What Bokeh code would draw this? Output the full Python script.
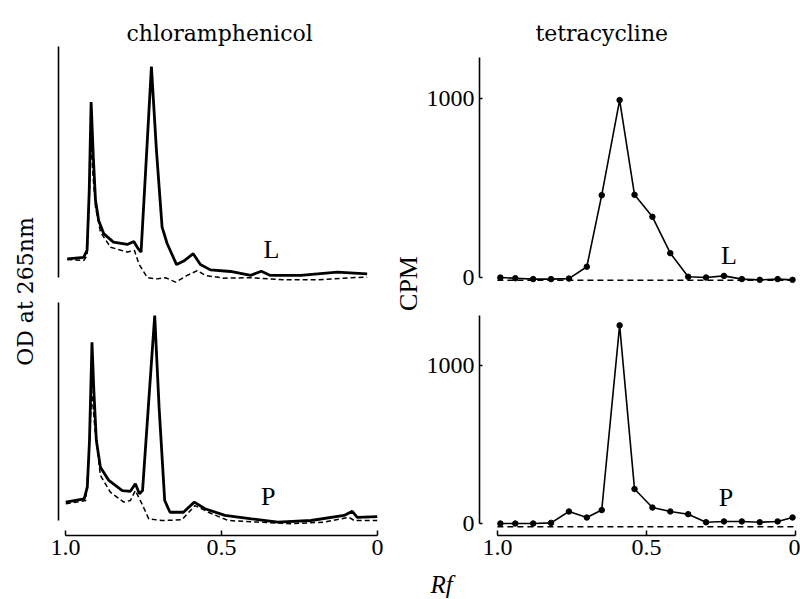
from math import pi
from bokeh.plotting import figure
from bokeh.layouts import row, column
from bokeh.models import Range1d, Label, FixedTicker
from bokeh.embed import file_html
from bokeh.resources import INLINE

# ---------------- data ----------------
# chloramphenicol, OD at 265 nm (arbitrary units), L panel
cam_L_solid_rf = [0.988, 0.936, 0.925, 0.918, 0.912, 0.905, 0.898, 0.888, 0.872, 0.841,
                  0.797, 0.776, 0.763, 0.753, 0.736, 0.720, 0.704, 0.686, 0.670, 0.640,
                  0.617, 0.587, 0.564, 0.532, 0.468, 0.404, 0.370, 0.341, 0.245, 0.128, 0.033]
cam_L_solid_od = [0.081, 0.087, 0.117, 0.377, 0.759, 0.521, 0.333, 0.247, 0.190, 0.153,
                  0.143, 0.156, 0.126, 0.110, 0.521, 0.913, 0.550, 0.218, 0.147, 0.056,
                  0.071, 0.103, 0.056, 0.033, 0.026, 0.009, 0.027, 0.009, 0.009, 0.023, 0.016]
cam_L_dash_rf = [0.988, 0.935, 0.925, 0.918, 0.913, 0.906, 0.898, 0.882, 0.850, 0.797,
                 0.774, 0.760, 0.733, 0.702, 0.675, 0.643, 0.606, 0.574, 0.548, 0.490,
                 0.404, 0.298, 0.192, 0.086, 0.033]
cam_L_dash_od = [0.078, 0.074, 0.095, 0.333, 0.593, 0.442, 0.304, 0.196, 0.131, 0.110,
                 0.117, 0.059, -0.001, -0.006, -0.001, -0.020, 0.009, 0.030, 0.009, -0.003,
                 -0.001, -0.010, -0.010, -0.001, 0.001]
# chloramphenicol, P panel
cam_P_solid_rf = [0.999, 0.940, 0.930, 0.923, 0.915, 0.909, 0.901, 0.888, 0.861, 0.818,
                  0.792, 0.776, 0.763, 0.753, 0.733, 0.714, 0.700, 0.682, 0.665, 0.622,
                  0.587, 0.553, 0.489, 0.404, 0.319, 0.213, 0.107, 0.081, 0.065, 0.001]
cam_P_solid_od = [0.080, 0.094, 0.145, 0.348, 0.775, 0.565, 0.348, 0.232, 0.174, 0.130,
                  0.127, 0.160, 0.116, 0.130, 0.522, 0.891, 0.493, 0.087, 0.036, 0.036,
                  0.080, 0.051, 0.022, 0.007, -0.007, 0.000, 0.022, 0.040, 0.014, 0.017]
cam_P_dash_rf = [0.999, 0.935, 0.925, 0.916, 0.905, 0.888, 0.856, 0.813, 0.792, 0.776,
                 0.755, 0.733, 0.691, 0.627, 0.585, 0.542, 0.479, 0.383, 0.277, 0.171,
                 0.091, 0.075, 0.001]
cam_P_dash_od = [0.073, 0.087, 0.275, 0.565, 0.391, 0.196, 0.123, 0.080, 0.087, 0.130,
                 0.073, 0.007, 0.000, 0.003, 0.065, 0.036, 0.000, -0.007, -0.014, -0.007,
                 0.014, 0.000, 0.000]

# tetracycline, CPM per fraction
tc_rf = [0.99, 0.94, 0.88, 0.82, 0.76, 0.70, 0.65, 0.59, 0.54, 0.48,
         0.42, 0.36, 0.30, 0.24, 0.18, 0.12, 0.06, 0.01]
tc_L_cpm = [0, -4, -9, -9, -6, 60, 460, 991, 462, 339,
            136, 4, 0, 9, -9, -13, -9, -13]
tc_P_cpm = [0, 0, 0, 4, 76, 38, 85, 1254, 218, 101,
            76, 59, 8, 13, 13, 8, 13, 38]
tc_bg_rf = [1.0, 0.0]
tc_L_bg = [-15, -15]
tc_P_bg = [-21, -21]

rf_ticks = [0, 0.5, 1.0]
rf_tick_labels = {0: "0", 0.5: "0.5", 1: "1.0"}
cpm_ticks = [0, 1000]

SERIF = "DejaVu Serif"
NUM = "Liberation Serif"


def make_fig(w, h, xr, yr, borders, xaxis=False, yaxis=True):
    l, r, t, b = borders
    p = figure(width=w, height=h, x_range=xr, y_range=yr,
               output_backend="svg", toolbar_location=None,
               x_axis_location="below" if xaxis else None,
               y_axis_location="left" if yaxis else None,
               min_border_left=l, min_border_right=r,
               min_border_top=t, min_border_bottom=b)
    p.outline_line_color = None
    p.grid.visible = False
    p.background_fill_color = "white"
    p.border_fill_color = "white"
    return p


def style_y(p, ticks, bounds):
    ax = p.yaxis[0]
    ax.ticker = FixedTicker(ticks=ticks, minor_ticks=[])
    ax.bounds = bounds
    ax.axis_line_color = "black"
    ax.axis_line_width = 1.6
    ax.major_tick_in = 3 if ticks else 0
    ax.major_tick_out = 0
    ax.minor_tick_in = 0
    ax.minor_tick_out = 0
    ax.major_tick_line_width = 1.5
    ax.major_label_text_font = NUM
    ax.major_label_text_font_size = "24px"
    ax.major_label_text_color = "black"
    ax.major_label_standoff = 5 if ticks else 0


def style_x(p):
    ax = p.xaxis[0]
    ax.ticker = FixedTicker(ticks=rf_ticks, minor_ticks=[])
    ax.major_label_overrides = rf_tick_labels
    ax.bounds = (0, 1)
    ax.axis_line_color = "black"
    ax.axis_line_width = 1.6
    ax.major_tick_in = 5
    ax.major_tick_out = 0
    ax.minor_tick_in = 0
    ax.minor_tick_out = 0
    ax.major_tick_line_width = 1.5
    ax.major_label_text_font = NUM
    ax.major_label_text_font_size = "24px"
    ax.major_label_text_color = "black"
    ax.major_label_standoff = 4


def text(p, x, y, s, size, font=NUM, angle=0, style="normal",
         align="center", baseline="middle"):
    p.add_layout(Label(x=x, y=y, text=s, text_font=font, text_font_size=size,
                       text_font_style=style, text_color="black",
                       text_align=align, text_baseline=baseline, angle=angle))


# ---------------- left column: chloramphenicol ----------------
tl = make_fig(346, 292, Range1d(1.0159, -0.0159), Range1d(-0.026, 1.199), (14, 8, 0, 9))
style_y(tl, [], (0, 1.0))
tl.line(cam_L_dash_rf, cam_L_dash_od, line_color="black", line_width=1.5, line_dash="5 3")
tl.line(cam_L_solid_rf, cam_L_solid_od, line_color="black", line_width=2.8)
text(tl, 0.338, 0.121, "L", "26px")
text(tl, 0.503, 1.056, "chloramphenicol", "22px", font=SERIF, baseline="alphabetic")

bl = make_fig(346, 277, Range1d(1.0223, -0.0159), Range1d(-0.0652, 0.948), (12, 8, 10, 34), xaxis=True)
style_y(bl, [], (0, 0.948))
style_x(bl)
bl.line(cam_P_dash_rf, cam_P_dash_od, line_color="black", line_width=1.5, line_dash="5 3")
bl.line(cam_P_solid_rf, cam_P_solid_od, line_color="black", line_width=2.8)
text(bl, 0.350, 0.104, "P", "26px")

# ---------------- right column: tetracycline ----------------
tr = make_fig(377, 292, Range1d(1.06, -0.0033), Range1d(-33.5, 1547.5), (54, 4, 0, 9))
style_y(tr, cpm_ticks, (0, 1229))
tr.line(tc_bg_rf, tc_L_bg, line_color="black", line_width=1.5, line_dash="6 4")
tr.line(tc_rf, tc_L_cpm, line_color="black", line_width=1.6)
tr.scatter(tc_rf, tc_L_cpm, marker="circle", size=5.5, color="black")
text(tr, 0.223, 123, "L", "26px")
text(tr, 0.65, 1363, "tetracycline", "22px", font=SERIF, baseline="alphabetic")

br = make_fig(377, 277, Range1d(1.06, -0.0033), Range1d(-75.9, 1398.7), (54, 4, 10, 34), xaxis=True)
style_y(br, cpm_ticks, (0, 1316))
style_x(br)
br.line(tc_bg_rf, tc_P_bg, line_color="black", line_width=1.5, line_dash="6 4")
br.line(tc_rf, tc_P_cpm, line_color="black", line_width=1.6)
br.scatter(tc_rf, tc_P_cpm, marker="circle", size=5.5, color="black")
text(br, 0.233, 165, "P", "26px")

# ---------------- strips holding the axis titles ----------------
od_strip = make_fig(44, 569, Range1d(0, 44), Range1d(0, 569), (0, 0, 0, 0), yaxis=False)
text(od_strip, 25, 278, "OD at 265nm", "22px", font=SERIF, angle=pi / 2)

cpm_strip = make_fig(33, 569, Range1d(0, 33), Range1d(0, 569), (0, 0, 0, 0), yaxis=False)
text(cpm_strip, 18, 286, "CPM", "26px", angle=pi / 2)

rf_strip = make_fig(800, 30, Range1d(0, 800), Range1d(0, 30), (0, 0, 0, 0), yaxis=False)
text(rf_strip, 441, 15, "Rf", "25px", style="italic", baseline="middle")

layout = column(row(od_strip, column(tl, bl), cpm_strip, column(tr, br)), rf_strip)

open("out.html", "w").write(file_html(layout, INLINE))
